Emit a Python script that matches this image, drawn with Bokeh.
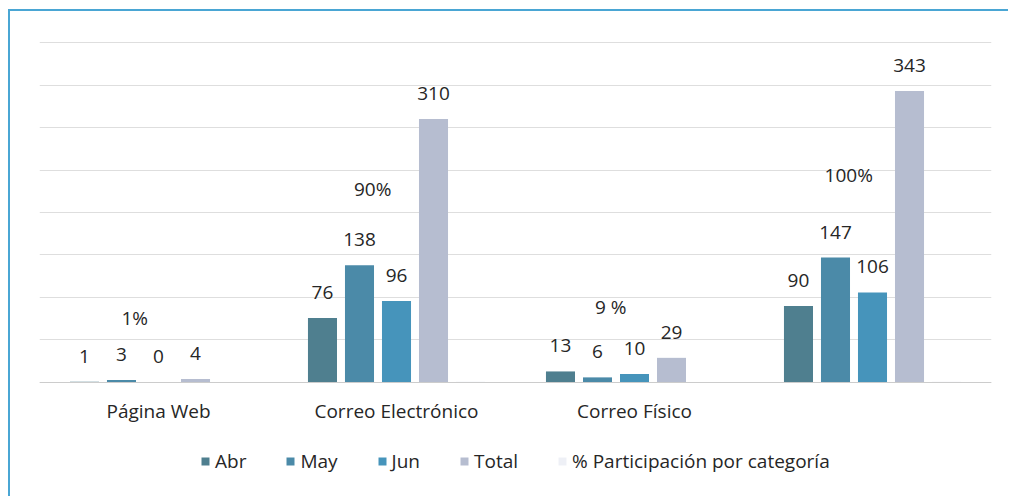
from bokeh.plotting import figure
from bokeh.models import ColumnDataSource, FactorRange, Range1d, SingleIntervalTicker, Legend, LegendItem
from bokeh.transform import dodge
from bokeh.core.properties import value
from bokeh.embed import file_html
from bokeh.resources import INLINE

categories = ["Página Web", "Correo Electrónico", "Correo Físico", " "]
abr = [1, 76, 13, 90]
may = [3, 138, 6, 147]
jun = [0, 96, 10, 106]
total = [4, 310, 29, 343]
pct = [1, 90, 9, 100]
pct_labels = ["1%", "90%", "9 %", "100%"]

series_names = ["Abr", "May", "Jun", "Total"]
colors = ["#4f7f8f", "#4b8aa8", "#4694bb", "#b6bdd0"]
pct_color = "#eef0f6"

FONT = "Open Sans"
FS = "19px"
TXT = "#262626"
FRAME = "#4aa6d4"

src = ColumnDataSource(dict(
    cat=categories,
    Abr=abr, May=may, Jun=jun, Total=total,
    pct_frac=[v / 100 for v in pct],
    pct=pct,
    pct_label=pct_labels,
    Abr_l=[str(v) for v in abr],
    May_l=[str(v) for v in may],
    Jun_l=[str(v) for v in jun],
    Total_l=[str(v) for v in total],
))

p = figure(
    x_range=FactorRange(*categories, range_padding=0),
    y_range=Range1d(-136.5, 401.2),
    width=1000, height=487,
    output_backend="svg", toolbar_location=None,
    min_border_left=29, min_border_right=19, min_border_top=30, min_border_bottom=0,
    outline_line_color=None,
)
p.styles = {
    "margin-left": "8px", "margin-top": "9px",
    "padding-left": "2px", "padding-top": "2px",
    "background": (f"linear-gradient({FRAME},{FRAME}) left top / 2px 100% no-repeat, "
                   f"linear-gradient({FRAME},{FRAME}) left top / 100% 2px no-repeat"),
}

p.extra_y_ranges = {"pct": Range1d(-122.8, 191.5)}

slot = 0.1555
bw = 0.122
offsets = [-2 * slot, -1 * slot, 0.0, 1 * slot, 2 * slot]

renderers = []
for name, col, off in zip(series_names, colors, offsets[:4]):
    r = p.vbar(x=dodge("cat", off, range=p.x_range), top=name, width=bw, source=src,
               fill_color=col, line_color=None)
    renderers.append((name, r))
    p.text(x=dodge("cat", off, range=p.x_range), y=name, text=name + "_l", source=src,
           text_align="center", text_baseline="bottom", y_offset=-19,
           text_font=value(FONT), text_font_size=FS, text_color=TXT)

r_pct = p.vbar(x=dodge("cat", offsets[4], range=p.x_range), top="pct_frac", width=bw, source=src,
               fill_color=pct_color, line_color=None)
renderers.append(("% Participación por categoría", r_pct))

p.text(x=dodge("cat", -0.1, range=p.x_range), y="pct", text="pct_label", source=src,
       y_range_name="pct", text_align="center", text_baseline="middle",
       text_font=value(FONT), text_font_size=FS, text_color=TXT)

# axes
p.yaxis.visible = False
p.xaxis.fixed_location = 0
p.xaxis.axis_line_color = "#cccccc"
p.xaxis.major_tick_line_color = None
p.xaxis.minor_tick_line_color = None
p.xaxis.major_label_standoff = 10
p.xaxis.major_label_text_font = FONT
p.xaxis.major_label_text_font_size = FS
p.xaxis.major_label_text_color = TXT
p.xaxis.major_label_text_font_style = "normal"

p.xgrid.grid_line_color = None
p.ygrid.ticker = SingleIntervalTicker(interval=50)
p.ygrid.bounds = (0, 400)
p.ygrid.grid_line_color = "#dedede"
p.ygrid.grid_line_width = 1

legend = Legend(
    items=[LegendItem(label=n, renderers=[r]) for n, r in renderers],
    orientation="horizontal",
    location=(161, 24),
    label_text_font=FONT, label_text_font_size=FS, label_text_color=TXT,
    glyph_width=10, glyph_height=10, label_standoff=5, spacing=39,
    padding=0, margin=0, border_line_color=None, background_fill_alpha=0,
)
p.add_layout(legend, "center")

open("out.html", "w").write(file_html(p, INLINE))
